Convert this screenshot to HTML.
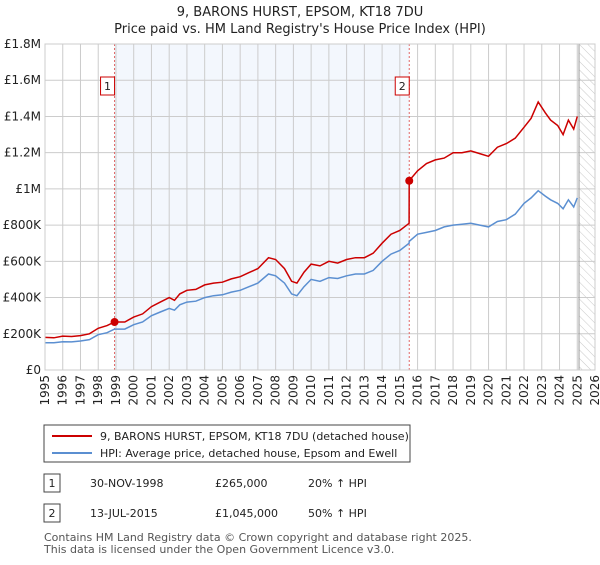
<!DOCTYPE html>
<html><head><meta charset="utf-8"><style>
body{margin:0;background:#fff;font-family:"Liberation Sans","DejaVu Sans",sans-serif;}
svg text{font-family:"DejaVu Sans","Liberation Sans",sans-serif;}
</style></head><body>
<svg width="600" height="560" xmlns="http://www.w3.org/2000/svg">
<defs><pattern id="hatch" width="6" height="6" patternUnits="userSpaceOnUse" patternTransform="rotate(-45)"><line x1="0" y1="0" x2="0" y2="6" stroke="#bbb" stroke-width="0.8"/></pattern></defs>
<text x="300" y="16" text-anchor="middle" font-size="13" fill="#222">9, BARONS HURST, EPSOM, KT18 7DU</text>
<text x="300" y="33" text-anchor="middle" font-size="13" fill="#222">Price paid vs. HM Land Registry's House Price Index (HPI)</text>
<g id="plot"></g>
<g>
<rect x="44" y="425" width="366" height="37" fill="#fff" stroke="#444"/>
<line x1="52" y1="436" x2="92" y2="436" stroke="#cc0000" stroke-width="2"/>
<text x="100" y="440" font-size="11" fill="#222">9, BARONS HURST, EPSOM, KT18 7DU (detached house)</text>
<line x1="52" y1="453" x2="92" y2="453" stroke="#5b8fd1" stroke-width="2"/>
<text x="100" y="457" font-size="11" fill="#222">HPI: Average price, detached house, Epsom and Ewell</text>
</g>
<g font-size="11" fill="#222">
<rect x="44" y="474" width="16" height="18" fill="#fff" stroke="#444"/><text x="52" y="487" text-anchor="middle">1</text>
<text x="90" y="487">30-NOV-1998</text><text x="215" y="487">£265,000</text><text x="308" y="487">20% ↑ HPI</text>
<rect x="44" y="504" width="16" height="18" fill="#fff" stroke="#444"/><text x="52" y="517" text-anchor="middle">2</text>
<text x="90" y="517">13-JUL-2015</text><text x="215" y="517">£1,045,000</text><text x="308" y="517">50% ↑ HPI</text>
</g>
<text x="44" y="541" font-size="11" fill="#555">Contains HM Land Registry data © Crown copyright and database right 2025.</text>
<text x="44" y="553" font-size="11" fill="#555">This data is licensed under the Open Government Licence v3.0.</text>
</svg>
<script>
const years=[1995,1995.5,1996,1996.5,1997,1997.5,1998,1998.5,1998.92,1999.5,2000,2000.5,2001,2001.5,2002,2002.3,2002.6,2003,2003.5,2004,2004.5,2005,2005.5,2006,2006.5,2007,2007.6,2008,2008.5,2008.9,2009.2,2009.6,2010,2010.5,2011,2011.5,2012,2012.5,2013,2013.5,2014,2014.5,2015,2015.52,2015.53,2016,2016.5,2017,2017.5,2018,2018.5,2019,2019.5,2020,2020.5,2021,2021.5,2022,2022.4,2022.8,2023.2,2023.5,2023.9,2024.2,2024.5,2024.8,2025];
const hpi=[0.151,0.150,0.156,0.155,0.160,0.168,0.195,0.206,0.226,0.226,0.250,0.265,0.300,0.320,0.340,0.330,0.360,0.375,0.380,0.400,0.410,0.415,0.430,0.440,0.460,0.480,0.530,0.520,0.480,0.420,0.410,0.460,0.500,0.490,0.510,0.505,0.520,0.530,0.530,0.550,0.600,0.640,0.660,0.700,0.710,0.750,0.760,0.770,0.790,0.800,0.805,0.810,0.800,0.790,0.820,0.830,0.860,0.920,0.950,0.990,0.960,0.940,0.920,0.890,0.940,0.900,0.950];
const price=[0.180,0.178,0.187,0.185,0.190,0.200,0.230,0.245,0.265,0.265,0.292,0.310,0.350,0.375,0.400,0.385,0.420,0.440,0.445,0.470,0.480,0.485,0.503,0.515,0.538,0.560,0.620,0.610,0.560,0.490,0.480,0.540,0.585,0.575,0.600,0.590,0.610,0.620,0.620,0.645,0.700,0.750,0.770,0.810,1.045,1.100,1.140,1.160,1.170,1.200,1.200,1.210,1.195,1.180,1.230,1.250,1.280,1.340,1.390,1.480,1.420,1.380,1.350,1.300,1.380,1.330,1.400];
const sales=[[1998.92,0.265,"1"],[2015.53,1.045,"2"]];
const yTicks=[0,0.2,0.4,0.6,0.8,1.0,1.2,1.4,1.6,1.8];
const yLabels=["£0","£200K","£400K","£600K","£800K","£1M","£1.2M","£1.4M","£1.6M","£1.8M"];
const x0=45,x1=595,y0=370,y1=44;
const X=t=>x0+(t-1995)/31*(x1-x0), Y=v=>y0-v/1.8*(y0-y1);
const g=document.getElementById('plot');const NS="http://www.w3.org/2000/svg";
function mk(tag,a,p){const e=document.createElementNS(NS,tag);for(const k in a)e.setAttribute(k,a[k]);(p||g).appendChild(e);return e;}
let r=mk('rect',{x:X(1998.92),y:y1,width:X(2015.53)-X(1998.92),height:y0-y1,fill:'#eef3fc',opacity:0.7});


r=mk('rect',{x:X(2025.1),y:y1,width:x1-X(2025.1),height:y0-y1,fill:'url(#hatch)'});


for(let yr=1995;yr<=2026;yr++){const l=mk('line',{x1:X(yr),x2:X(yr),y1:y1,y2:y0,stroke:'#ccc','stroke-width':1});


const tx=X(yr)+4,ty=y0+5;
const t=mk('text',{x:tx,y:ty,'text-anchor':'end','font-size':12,fill:'#222',transform:'rotate(-90 '+tx+' '+ty+')'});t.textContent=yr;

}
yTicks.forEach((v,i)=>{const l=mk('line',{x1:x0,x2:x1,y1:Y(v),y2:Y(v),stroke:'#ccc','stroke-width':1});


const t=mk('text',{x:x0-4,y:Y(v)+4,'text-anchor':'end','font-size':12,fill:'#222'});t.textContent=yLabels[i];

});
let l=mk('line',{x1:X(2025.1),x2:X(2025.1),y1:y1,y2:y0,stroke:'#999','stroke-width':1});


sales.forEach(s=>{const d=mk('line',{x1:X(s[0]),x2:X(s[0]),y1:y1,y2:y0,stroke:'#e06666','stroke-width':1,'stroke-dasharray':'2,2'});

});
function path(vals,col,name){const p=mk('path',{d:vals.map((v,i)=>(i?'L':'M')+X(years[i]).toFixed(1)+','+Y(v).toFixed(1)).join(''),fill:'none',stroke:col,'stroke-width':1.5});

}
path(hpi,'#5b8fd1','hpi-line');path(price,'#cc0000','price-line');
sales.forEach(s=>{const c=mk('circle',{cx:X(s[0]),cy:Y(s[1]),r:4,fill:'#cc0000'});


const b=mk('rect',{x:X(s[0])-14,y:77,width:14,height:18,fill:'#fff',stroke:'#cc0000'});


const t=mk('text',{x:X(s[0])-7,y:90,'text-anchor':'middle','font-size':11,fill:'#222'});t.textContent=s[2];

});
r=mk('rect',{x:x0,y:y1,width:x1-x0,height:y0-y1,fill:'none',stroke:'#ccc'});


</script>
</body></html>
